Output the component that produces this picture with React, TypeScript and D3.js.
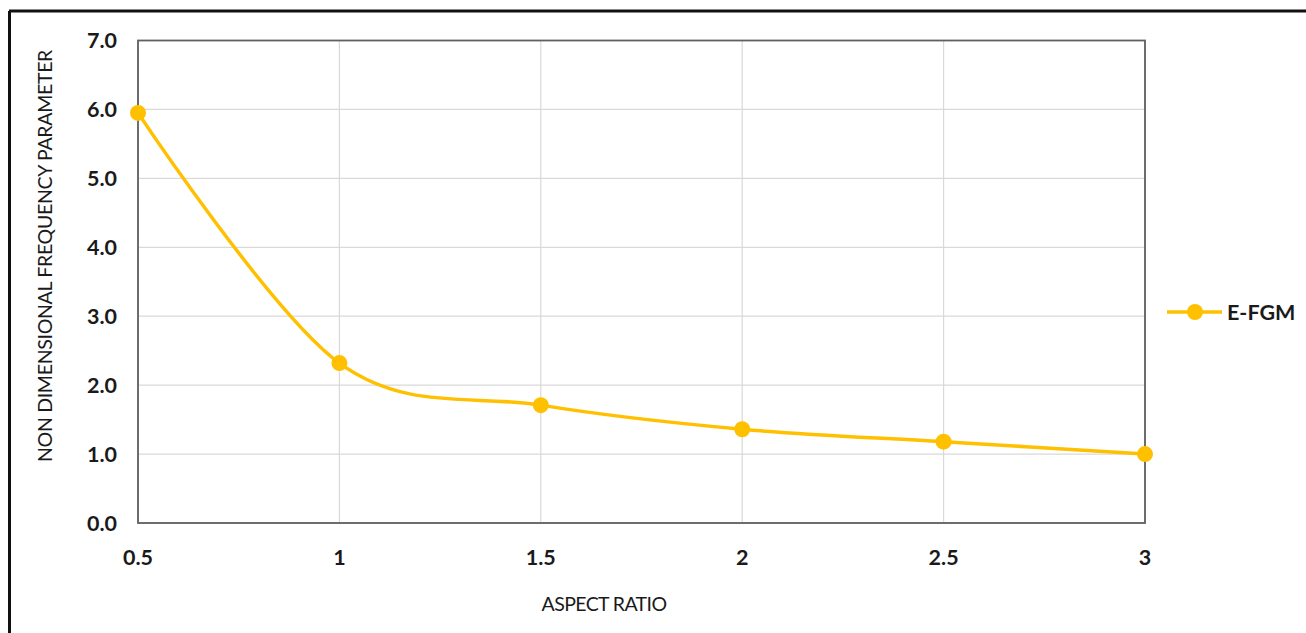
import React from "react";
import * as d3 from "d3";

const aspectRatios = [0.5, 1, 1.5, 2, 2.5, 3];
const frequencyValues = [5.95, 2.32, 1.71, 1.36, 1.18, 1.0];
const yTicks = [0, 1, 2, 3, 4, 5, 6, 7];
const xTickLabels = ["0.5", "1", "1.5", "2", "2.5", "3"];
const seriesName = "E-FGM";
const xTitle = "ASPECT RATIO";
const yTitle = "NON DIMENSIONAL FREQUENCY PARAMETER";

const W = 1306;
const H = 633;
const L = 138, R = 1145, T = 40.5, B = 523;
const COLOR = "#FFC000";
const FONT = "Lato, 'Open Sans', sans-serif";

export default function App() {
  const x = d3.scaleLinear().domain([0.5, 3]).range([L, R]);
  const y = d3.scaleLinear().domain([0, 7]).range([B, T]);
  const pts: [number, number][] = aspectRatios.map((a, i) => [x(a), y(frequencyValues[i])]);
  const line = d3.line().curve(d3.curveCatmullRom.alpha(0))(pts) || "";

  return (
    <svg width={W} height={H} style={{ position: "absolute", left: 0, top: 0, background: "#fff" }}>
      <rect x={0} y={0} width={W} height={H} fill="#fff" />
      <line x1={9} y1={11} x2={W} y2={11} stroke="#111" strokeWidth={3} />
      <line x1={9.5} y1={11} x2={9.5} y2={H} stroke="#111" strokeWidth={3} />

      {yTicks.map((t) => (
        <line key={"gy" + t} x1={L} x2={R} y1={y(t)} y2={y(t)} stroke="#d9d9d9" strokeWidth={1.2} />
      ))}
      {aspectRatios.map((a) => (
        <line key={"gx" + a} x1={x(a)} x2={x(a)} y1={T} y2={B} stroke="#d9d9d9" strokeWidth={1.2} />
      ))}

      <rect x={L} y={T} width={R - L} height={B - T} fill="none" stroke="#606060" strokeWidth={1.8} />

      {yTicks.map((t) => (
        <text key={"yl" + t} x={117} y={y(t)} dy="0.36em" textAnchor="end"
          fontFamily={FONT} fontWeight={700} fontSize={21.5} fill="#1a1a1a">
          {d3.format(".1f")(t)}
        </text>
      ))}
      {aspectRatios.map((a, i) => (
        <text key={"xl" + a} x={x(a)} y={557} dy="0.36em" textAnchor="middle"
          fontFamily={FONT} fontWeight={700} fontSize={21.5} fill="#1a1a1a">
          {xTickLabels[i]}
        </text>
      ))}

      <text x={604} y={604} dy="0.36em" textAnchor="middle" fontFamily={FONT} fontSize={19.5}
        fill="#1a1a1a" letterSpacing={-0.6}>
        {xTitle}
      </text>
      <text transform={`translate(45,256) rotate(-90)`} dy="0.36em" textAnchor="middle"
        fontFamily={FONT} fontSize={19.5} fill="#1a1a1a" letterSpacing={-0.3}>
        {yTitle}
      </text>

      <path d={line} fill="none" stroke={COLOR} strokeWidth={3.5} strokeLinejoin="round" />
      {pts.map((p, i) => (
        <circle key={"pt" + i} cx={p[0]} cy={p[1]} r={8} fill={COLOR} />
      ))}

      <line x1={1167} x2={1222} y1={312} y2={312} stroke={COLOR} strokeWidth={3.5} />
      <circle cx={1195} cy={312} r={8} fill={COLOR} />
      <text x={1227} y={312} dy="0.36em" fontFamily={FONT} fontWeight={700} fontSize={21.5} fill="#1a1a1a">
        {seriesName}
      </text>
    </svg>
  );
}
